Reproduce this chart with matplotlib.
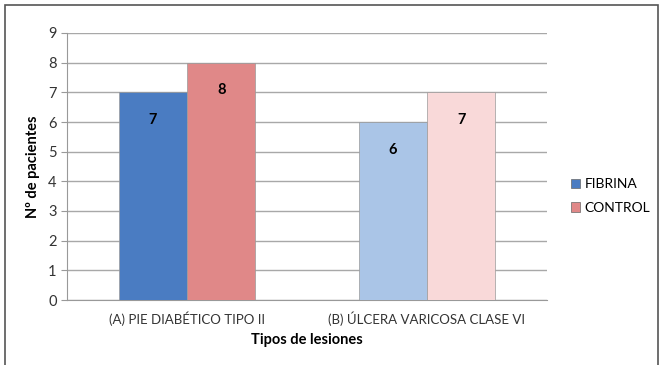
import numpy as np
import matplotlib.pyplot as plt
from matplotlib.patches import Rectangle

plt.rcParams['font.family'] = ['Lato', 'DejaVu Sans']

categorias = ["(A) PIE DIABÉTICO TIPO II", "(B) ÚLCERA VARICOSA CLASE VI"]
fibrina = [7, 6]
control = [8, 7]
series = ["FIBRINA", "CONTROL"]

col_fib = ["#4a7cc2", "#aac5e7"]
col_ctl = ["#e08888", "#f9d9d9"]

fig = plt.figure(figsize=(6.59, 3.65), dpi=100)
ax = fig.add_axes([67/659, 1 - 300/365, 480/659, 267/365])

x = np.arange(len(categorias))
w = 0.285
b1 = ax.bar(x - w/2, fibrina, w, color=col_fib, edgecolor="#9a9a9a", linewidth=0.5, zorder=3)
b2 = ax.bar(x + w/2, control, w, color=col_ctl, edgecolor="#9a9a9a", linewidth=0.5, zorder=3)

for bars, vals in [(b1, fibrina), (b2, control)]:
    for r, v in zip(bars, vals):
        ax.annotate(str(v), (r.get_x() + r.get_width()/2, v), xytext=(0, -20),
                    textcoords="offset points", ha="center", va="center",
                    fontsize=10.5, fontweight="bold", color="black", zorder=4)

ax.set_xlim(-0.5, 1.5)
ax.set_ylim(0, 9)
ax.set_yticks(range(10))
ax.set_xticks(x)
ax.set_xticklabels(categorias, fontsize=9.5, color="#333333")
ax.tick_params(axis="y", labelsize=10.5, colors="#333333", length=4, color="#999999")
ax.tick_params(axis="x", length=0, pad=8)
ax.yaxis.grid(True, color="#a8a8a8", linewidth=1, zorder=0)
for s in ["top", "right"]:
    ax.spines[s].set_visible(False)
ax.spines["left"].set_color("#999999")
ax.spines["bottom"].set_color("#999999")

ax.set_ylabel("Nº de pacientes", fontsize=10.5, fontweight="bold", labelpad=6)
ax.set_xlabel("Tipos de lesiones", fontsize=10.5, fontweight="bold", labelpad=5)

handles = [Rectangle((0, 0), 1, 1, facecolor=col_fib[0], edgecolor="#666666", linewidth=0.5),
           Rectangle((0, 0), 1, 1, facecolor=col_ctl[0], edgecolor="#666666", linewidth=0.5)]
fig.legend(handles, series, loc="center left", bbox_to_anchor=(558/659, 1 - 196/365),
           frameon=False, fontsize=10, handlelength=0.7, handleheight=0.7,
           handletextpad=0.3, labelspacing=0.8)

fig.add_artist(Rectangle((5/659, -0.05), 653/659, 1 - 5/365 + 0.05, transform=fig.transFigure,
                         fill=False, edgecolor="#555555", linewidth=1.2))

fig.savefig("out.png", dpi=100)
